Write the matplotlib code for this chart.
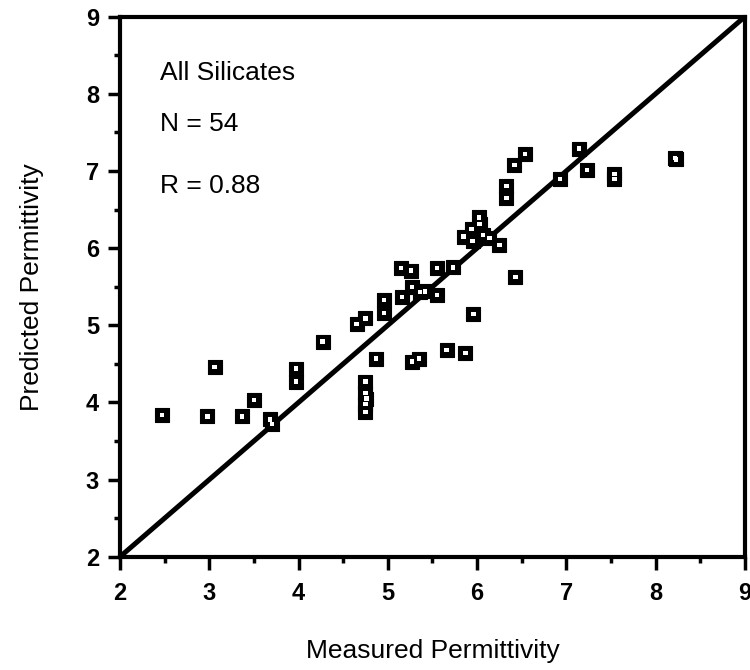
import matplotlib
matplotlib.use("Agg")
import matplotlib.pyplot as plt
from matplotlib.ticker import MultipleLocator

plt.rcParams['font.family'] = ['Liberation Sans', 'DejaVu Sans']

# Measured vs. predicted permittivity for the silicate samples
measured = [2.47, 2.98, 3.06, 3.37, 3.50, 3.68, 3.70, 3.97, 3.97, 4.27,
            4.65, 4.75, 4.75, 4.75, 4.75, 4.75, 4.76, 4.87, 4.96, 4.96,
            5.16, 5.15, 5.26, 5.27, 5.27, 5.35, 5.36, 5.42, 5.55, 5.55,
            5.73, 5.66, 5.87, 5.96, 5.85, 5.94, 5.95, 6.02, 6.03, 6.07,
            6.14, 6.25, 6.43, 6.33, 6.33, 6.42, 6.54, 6.93, 7.14, 7.23,
            7.54, 7.54, 8.22, 8.23]
predicted = [3.84, 3.82, 4.46, 3.82, 4.03, 3.78, 3.72, 4.44, 4.27, 4.79,
             5.02, 5.09, 4.27, 4.12, 3.98, 3.88, 4.05, 4.57, 5.33, 5.16,
             5.37, 5.74, 5.71, 5.50, 4.53, 4.57, 5.43, 5.44, 5.39, 5.74,
             5.75, 4.68, 4.64, 5.15, 6.15, 6.25, 6.09, 6.40, 6.31, 6.17,
             6.13, 6.04, 5.63, 6.65, 6.81, 7.08, 7.22, 6.90, 7.29, 7.01,
             6.96, 6.90, 7.17, 7.15]

axis_range = [2, 9]
annotations = ["All Silicates", "N = 54", "R = 0.88"]

fig = plt.figure(figsize=(7.5, 6.7), dpi=100)
ax = fig.add_axes([0.16, 0.169, 0.833, 0.806])

# 1:1 reference line
ax.plot(axis_range, axis_range, color='black', lw=3.6, solid_capstyle='butt', zorder=2)

# black square markers with a small open centre
ax.scatter(measured, predicted, marker='s', s=105, facecolor='black',
           edgecolor='black', linewidths=0.8, zorder=3)
ax.scatter(measured, predicted, marker='s', s=10, facecolor='white',
           edgecolor='none', zorder=4)

ax.set_xlim(axis_range)
ax.set_ylim(axis_range)

for sp in ax.spines.values():
    sp.set_linewidth(3)

ax.xaxis.set_major_locator(MultipleLocator(1))
ax.yaxis.set_major_locator(MultipleLocator(1))
ax.xaxis.set_minor_locator(MultipleLocator(0.5))
ax.yaxis.set_minor_locator(MultipleLocator(0.5))
ax.tick_params(which='major', direction='out', length=9, width=2.5,
               labelsize=17)
ax.tick_params(axis='x', which='major', pad=9)
ax.tick_params(axis='y', which='major', pad=6)
ax.tick_params(which='minor', direction='out', length=4, width=2.5)
for lab in ax.get_xticklabels() + ax.get_yticklabels():
    lab.set_fontweight('bold')

ax.set_xlabel("Measured Permittivity", fontsize=19, labelpad=25)
ax.set_ylabel("Predicted Permittivity", fontsize=19, labelpad=30)

text_y = [8.27, 7.61, 6.80]
for txt, ty in zip(annotations, text_y):
    ax.text(2.45, ty, txt, fontsize=19, va='center', ha='left')

fig.savefig("out.png", dpi=100)
